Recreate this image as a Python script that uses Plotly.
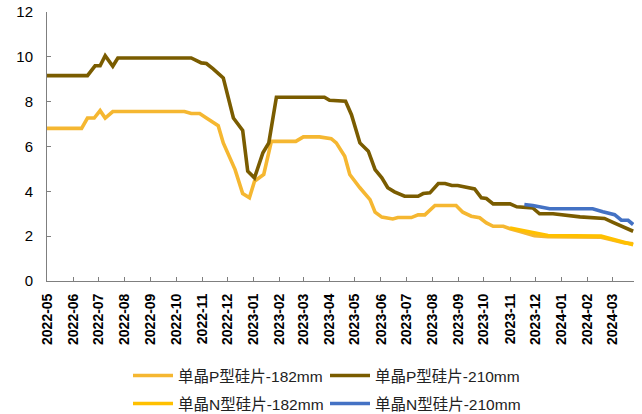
import plotly.graph_objects as go

# ---- data ----
p182_dates = ["2022-05-01","2022-06-11","2022-06-18","2022-06-26","2022-07-03","2022-07-09","2022-07-18",
              "2022-10-11","2022-10-19","2022-10-29","2022-11-06","2022-11-20","2022-11-26","2022-12-10",
              "2022-12-19","2022-12-27","2023-01-02","2023-01-13","2023-01-22","2023-02-20","2023-03-01",
              "2023-03-20","2023-04-03","2023-04-09","2023-04-19","2023-04-25","2023-05-07","2023-05-19",
              "2023-05-25","2023-06-02","2023-06-15","2023-06-21","2023-07-07","2023-07-15","2023-07-23",
              "2023-08-04","2023-08-29","2023-09-06","2023-09-16","2023-09-26","2023-10-04","2023-10-12",
              "2023-10-24","2023-11-01","2023-11-14","2023-11-30","2023-12-16","2024-02-17","2024-03-04",
              "2024-03-16","2024-03-26"]
p182_vals = [6.81,6.81,7.27,7.27,7.60,7.27,7.56,
             7.56,7.47,7.47,7.27,6.93,6.16,4.97,
             3.90,3.71,4.45,4.75,6.23,6.23,6.43,
             6.43,6.35,6.16,5.56,4.75,4.16,3.63,
             3.07,2.85,2.77,2.83,2.83,2.95,2.95,
             3.37,3.37,3.07,2.89,2.82,2.59,2.44,
             2.44,2.33,2.20,2.02,1.98,1.95,1.81,
             1.70,1.66]

p210_dates = ["2022-05-01","2022-06-18","2022-06-27","2022-07-03","2022-07-09","2022-07-18","2022-07-24",
              "2022-10-19","2022-10-31","2022-11-06","2022-11-14","2022-11-26","2022-12-08","2022-12-12",
              "2022-12-19","2022-12-25","2023-01-02","2023-01-12","2023-01-19","2023-01-28","2023-03-26",
              "2023-04-01","2023-04-20","2023-04-27","2023-05-07","2023-05-17","2023-05-25","2023-06-02",
              "2023-06-09","2023-06-17","2023-06-29","2023-07-15","2023-07-21","2023-07-29","2023-08-08",
              "2023-08-16","2023-08-24","2023-08-31","2023-09-20","2023-09-28","2023-10-04","2023-10-12",
              "2023-11-01","2023-11-09","2023-11-28","2023-12-06","2023-12-22","2024-01-23","2024-02-21",
              "2024-03-02","2024-03-26"]
p210_vals = [9.16,9.16,9.60,9.60,10.05,9.58,9.95,
             9.95,9.73,9.70,9.46,9.06,7.27,7.05,
             6.72,4.90,4.60,5.72,6.16,8.20,8.20,
             8.06,8.02,7.42,6.16,5.79,4.97,4.60,
             4.16,3.98,3.78,3.78,3.90,3.93,4.35,
             4.35,4.26,4.26,4.11,3.71,3.68,3.44,
             3.44,3.31,3.26,3.00,3.00,2.86,2.79,
             2.62,2.22]

n182_dates = ["2023-11-01","2023-11-14","2023-11-30","2023-12-16","2024-02-17","2024-03-04","2024-03-16","2024-03-26"]
n182_vals = [2.36,2.27,2.12,2.03,2.00,1.85,1.70,1.62]

n210_dates = ["2023-11-18","2023-11-28","2023-12-18","2024-02-07","2024-02-19","2024-03-04","2024-03-12","2024-03-20","2024-03-26"]
n210_vals = [3.41,3.37,3.22,3.22,3.09,2.96,2.71,2.71,2.52]

names = ["单晶P型硅片-182mm", "单晶P型硅片-210mm", "单晶N型硅片-182mm", "单晶N型硅片-210mm"]
colors = ["#F5B731", "#7A5C00", "#FFC000", "#4472C4"]

y_ticks = [0, 2, 4, 6, 8, 10, 12]

fig = go.Figure()
series = [(p182_dates, p182_vals, "legend"), (p210_dates, p210_vals, "legend"),
          (n182_dates, n182_vals, "legend2"), (n210_dates, n210_vals, "legend2")]
for (d, v, lg), nm, c in zip(series, names, colors):
    fig.add_trace(go.Scatter(x=d, y=v, mode="lines", name=nm, legend=lg,
                             line=dict(color=c, width=3.6)))

font_main = "Liberation Sans, Arial, Noto Sans CJK SC, sans-serif"
legend_common = dict(orientation="h", xanchor="left", yanchor="middle",
                     font=dict(family=font_main, size=15.5, color="#222"),
                     entrywidth=142, entrywidthmode="pixels",
                     bgcolor="rgba(0,0,0,0)", itemwidth=40, tracegroupgap=0)

fig.update_layout(
    width=642, height=414,
    margin=dict(l=47, r=8, t=12, b=132.5, autoexpand=False),
    plot_bgcolor="white", paper_bgcolor="white",
    font=dict(family=font_main, color="#000"),
    legend=dict(x=0.138, y=-0.353, **legend_common),
    legend2=dict(x=0.138, y=-0.457, **legend_common),
    xaxis=dict(type="date", range=["2022-05-01", "2024-03-27"],
               tick0="2022-05-01", dtick="M1", tickformat="%Y-%m",
               tickangle=-90, showgrid=False, zeroline=False, automargin=False,
               showline=True, linecolor="#7f7f7f", linewidth=1,
               ticks="inside", ticklen=4, tickcolor="#7f7f7f", ticklabelstandoff=6,
               tickfont=dict(family="Liberation Sans, Arial", size=14, color="#000", weight="bold")),
    yaxis=dict(range=[0, 12], tickvals=y_ticks, showgrid=False, zeroline=False, automargin=False,
               showline=True, linecolor="#7f7f7f", linewidth=1,
               ticks="inside", ticklen=4, tickcolor="#7f7f7f", ticklabelstandoff=10,
               tickfont=dict(family="Liberation Sans, Arial", size=15, color="#000")),
)

# remove the browser's default 8px body margin so the figure fills the window exactly
fig.write_html("out.html", config={"displayModeBar": False},
               post_script="document.body.style.margin='0px';document.body.style.overflow='hidden';")
